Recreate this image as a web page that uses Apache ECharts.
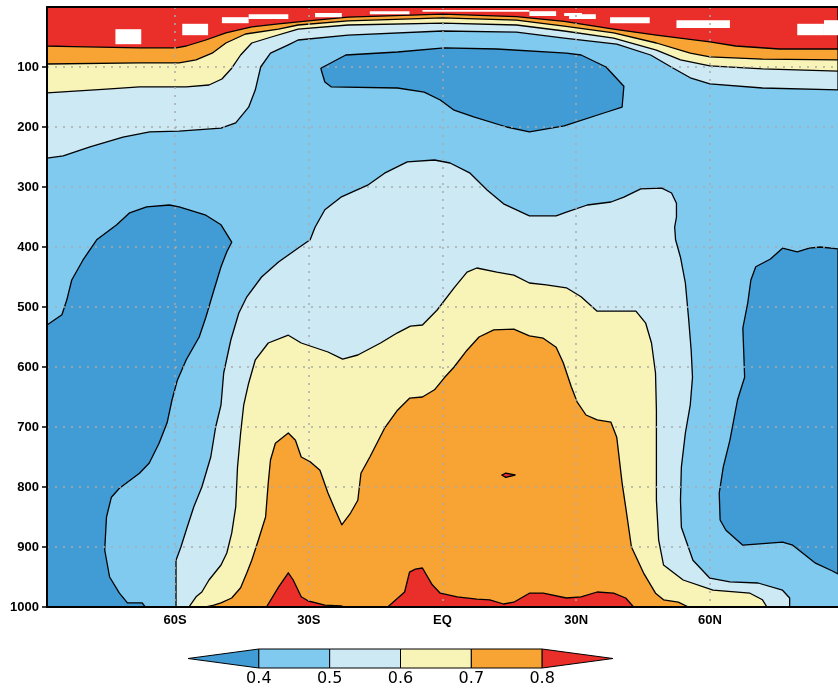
<!DOCTYPE html>
<html>
<head>
<meta charset="UTF-8">
<title>contour</title>
<script src="https://cdn.jsdelivr.net/npm/echarts@6/dist/echarts.min.js"></script>
<style>
  body { margin: 0; background: #fff; }
  #main { width: 838px; height: 690px; }
</style>
</head>
<body>
<div id="main"></div>
<script>
var latMin = -88.75, latMax = 88.75;
var latTicks = [-60, -30, 0, 30, 60];
var latNames = { '-60': '60S', '-30': '30S', '0': 'EQ', '30': '30N', '60': '60N' };
var presTicks = [100, 200, 300, 400, 500, 600, 700, 800, 900, 1000];
var levels = [0.3, 0.4, 0.5, 0.6, 0.7, 0.8, 0.9];
var levelLabels = [0.4, 0.5, 0.6, 0.7, 0.8];
var colors = ['#419bd5', '#80c9ef', '#cde9f4', '#f8f3b6', '#f8a434', '#ea2e29'];

// contour lines [lat, hPa] of the upper band, west to east
var upper05 = [[-88.75,252],[-85.1,248],[-79.1,233],[-71.7,217],[-65.7,208],[-59.1,207],[-49.7,202],[-46.4,193],[-43.5,167],[-42,138],[-40.8,100],[-38.6,77],[-34.6,63],[-32.4,55],[-21.2,47],[0,40],[16.6,42],[27.3,52],[39.1,62],[46.7,80],[51.8,102],[55.6,118],[60,128],[71.8,135],[88.75,138]];
var upper06 = [[-88.75,143],[-75.4,137],[-68,133],[-57.5,133],[-52.4,130],[-49.5,120],[-47.3,102],[-45.3,80],[-42.8,60],[-38.4,50],[-32.4,37],[-21.2,30],[0,27],[16.6,30],[27.3,40],[38.4,52],[48,72],[53.4,88],[60,98],[71.8,103],[88.75,107]];
var upper07 = [[-88.75,95],[-68,93],[-59.1,93],[-55.3,88],[-51.7,77],[-48.6,60],[-44.2,45],[-36.8,37],[-32.4,30],[-21.2,23],[0,18],[16.6,22],[27.3,32],[38.4,43],[48,60],[55.6,77],[60,83],[71.8,87],[88.75,88]];
var upper08 = [[-88.75,65],[-82.9,66],[-68,68],[-59.8,68],[-57.5,65],[-53.1,55],[-48.6,43],[-42.8,33],[-36.8,28],[-30.1,23],[-21.2,17],[0,12],[16.6,16],[27.3,24],[38.4,37],[48,47],[60,58],[65.8,65],[75.6,70],[88.75,70]];

// missing data boxes [lat0, lat1, p0, p1]
var gaps = [[-73.4,-67.6,37,62],[-58.4,-52.6,28,47],[-49.5,-43.5,17,27],[-43.5,-34.6,12,20],[-28.6,-22.6,10,17],[-16.3,-7.4,7,12],[-4.5,19.5,5,8],[19.5,25.5,7,15],[27.3,31.3,10,15],[28.4,34.4,12,20],[37.6,46.5,17,27],[52.5,64.5,22,35],[79.6,85.6,28,47],[85.6,88.75,22,47]];

// regions below 0.4
var lowUpper = [[-27.3,102],[-21.7,80],[-10.1,75],[0.4,68],[12.2,70],[27.8,77],[31.1,80],[36.7,100],[40.7,132],[40.3,167],[36.9,175],[27.3,198],[19.5,208],[14.4,200],[7,183],[2.6,172],[-0.5,155],[-4.1,142],[-10.1,135],[-25,133],[-26.4,125],[-27.1,108]];
var lowLeft = [[-88.75,530],[-85.4,513],[-84.3,488],[-83.2,455],[-80.7,422],[-77.6,388],[-73.1,363],[-70.2,343],[-66.4,333],[-61.3,330],[-59.1,333],[-53.1,347],[-49.7,363],[-47.3,392],[-48.4,408],[-49.7,433],[-51.3,472],[-53.1,517],[-54.6,550],[-57.5,588],[-59.5,622],[-60.7,655],[-61.8,693],[-63.6,727],[-65.8,760],[-68,777],[-72.5,802],[-74.3,817],[-75.4,850],[-75.8,905],[-74.7,950],[-72.5,977],[-70.7,993],[-67.4,993],[-66.7,1000],[-88.75,1000]];
var lowRight = [[70.3,433],[73.6,420],[76.3,402],[79.6,408],[82.3,402],[84.8,400],[88.75,403],[88.75,945],[87.5,940],[83.7,927],[80.8,910],[78.6,897],[76.3,892],[74.1,893],[67.4,897],[63.6,872],[62.3,855],[62.1,810],[63,767],[64.5,722],[66.2,655],[66.7,643],[67.8,617],[67.4,535],[68.5,493],[69.2,455]];

// tropospheric regions above 0.5, 0.6, 0.7, 0.8
var mid05 = [[-59.8,1000],[-59.8,922],[-58.7,900],[-57.3,867],[-55.8,833],[-54,800],[-52,750],[-50.9,700],[-49.7,663],[-49.1,610],[-47.5,555],[-45.7,510],[-43.9,483],[-40.6,450],[-36.8,425],[-33,405],[-29.7,388],[-28.6,367],[-26.4,338],[-22.8,317],[-16.8,297],[-13,277],[-7.9,258],[-1.8,255],[1.7,260],[6.2,277],[10,305],[13.7,328],[19.5,348],[25.5,348],[27.8,342],[32.5,330],[37.8,325],[40.7,317],[44.5,303],[49.2,302],[51.4,310],[52.5,327],[52.5,350],[52.1,367],[52.3,388],[53.4,417],[54.5,460],[55.2,517],[55.8,572],[56.1,617],[55.6,663],[54.5,710],[53.6,767],[53.4,822],[53.6,867],[56.2,922],[60,952],[64.5,958],[70.8,960],[76.3,972],[77.9,985],[77.9,1000]];
var mid06 = [[-56.9,1000],[-55.3,983],[-54,975],[-52.4,955],[-49.7,930],[-48.4,910],[-47.3,877],[-46.4,833],[-46,767],[-45.3,710],[-44.6,663],[-43.5,627],[-42,588],[-39.1,560],[-34.6,547],[-31.7,560],[-25.7,575],[-22.4,587],[-19,580],[-13.9,560],[-10.1,543],[-7.2,532],[-4.5,530],[-1.2,505],[2.6,468],[5.5,442],[7.7,435],[12.2,442],[16,447],[19.5,460],[23.3,463],[27.8,468],[31.1,483],[34.7,507],[43.4,507],[45.6,527],[46.9,560],[47.8,610],[48,672],[48,822],[48.5,888],[49.6,930],[54,955],[60.7,972],[69,977],[71.8,988],[72.8,1000]];
var mid07 = [[-53.1,1000],[-51.3,997],[-49.7,993],[-47.3,985],[-45.3,968],[-43.9,943],[-42.8,922],[-41.3,888],[-39.7,850],[-39.1,793],[-38.6,755],[-37.5,727],[-34.6,710],[-33,722],[-31.7,750],[-29.7,758],[-27.5,772],[-25.7,810],[-24.1,838],[-22.6,863],[-20.6,843],[-19,822],[-18.3,777],[-16.3,750],[-13,702],[-10.1,672],[-7.4,652],[-4.5,650],[-1.8,638],[0.4,618],[2.6,600],[5.5,572],[8.2,550],[11.5,538],[16,537],[19.5,548],[22.6,552],[25.5,567],[27.1,593],[28.9,633],[30.2,658],[32.2,680],[34.7,688],[37.8,692],[39.1,717],[40.3,793],[41.1,833],[42.4,900],[45.1,943],[47.8,977],[49.6,988],[52.9,992],[55.2,1000]];
var mid08a = [[-39.5,1000],[-36.8,967],[-34.6,943],[-33.5,955],[-31.7,983],[-30.1,990],[-26.4,997],[-22.8,998],[-21.9,1000]];
var mid08b = [[-12.3,1000],[-8.5,975],[-7.4,942],[-6.1,937],[-4.5,935],[-2.3,963],[-0.5,977],[3.3,983],[7.7,987],[10.6,988],[13.7,995],[16,992],[19.5,977],[22.6,977],[27.8,985],[31.1,983],[34.7,975],[38.4,977],[41.1,985],[42.9,1000]];
var mid08c = [[13.3,780],[14.2,777],[16.3,780],[14.2,784]];

var regions = [];
function addRegion(pts, fill, line) {
  regions.push({ pts: pts, fill: fill, line: line });
}
function closeTop(line) {
  return line.concat([[latMax, 0], [latMin, 0]]);
}

addRegion(closeTop(upper05), colors[2], true);
addRegion(closeTop(upper06), colors[3], true);
addRegion(closeTop(upper07), colors[4], true);
addRegion(closeTop(upper08), colors[5], true);
gaps.forEach(function (g) {
  addRegion([[g[0], g[2]], [g[1], g[2]], [g[1], g[3]], [g[0], g[3]]], '#ffffff', false);
});
addRegion(lowUpper, colors[0], true);
addRegion(lowLeft, colors[0], true);
addRegion(lowRight, colors[0], true);
addRegion(mid05, colors[2], true);
addRegion(mid06, colors[3], true);
addRegion(mid07, colors[4], true);
addRegion(mid08a, colors[5], true);
addRegion(mid08b, colors[5], true);
addRegion(mid08c, colors[5], true);

var dotted = { color: '#aaaaaa', width: 1.5, type: [2, 6] };
var tickFont = { color: '#000', fontSize: 13, fontWeight: 'bold', fontFamily: 'Liberation Sans' };

var chart = echarts.init(document.getElementById('main'));

chart.setOption({
  animation: false,
  grid: [
    { left: 47, top: 7, width: 796.8, height: 600, show: true, backgroundColor: colors[1], borderWidth: 0 },
    { left: 188, top: 649, width: 425, height: 19 }
  ],
  xAxis: [
    {
      type: 'value', gridIndex: 0, min: latMin, max: latMax, z: 11,
      axisLine: { show: true, onZero: false, lineStyle: { color: '#000', width: 2 } },
      axisTick: { show: false, customValues: latTicks },
      axisLabel: Object.assign({ customValues: latTicks, margin: 7, formatter: function (v) { return latNames[v]; } }, tickFont),
      splitLine: { show: true, lineStyle: dotted }
    },
    {
      type: 'value', gridIndex: 0, position: 'top', min: latMin, max: latMax, z: 11,
      axisLine: { show: true, onZero: false, lineStyle: { color: '#000', width: 2 } },
      axisTick: { show: false }, axisLabel: { show: false }, splitLine: { show: false }
    },
    {
      type: 'value', gridIndex: 1, min: 0.3, max: 0.9,
      axisLine: { show: false }, axisTick: { show: false }, splitLine: { show: false },
      axisLabel: {
        customValues: levelLabels, margin: 3, color: '#000', fontSize: 16, fontFamily: 'DejaVu Sans',
        formatter: function (v) { return v.toFixed(1); }
      }
    }
  ],
  yAxis: [
    {
      type: 'value', gridIndex: 0, min: 0, max: 1000, inverse: true, z: 10,
      axisLine: { show: true, onZero: false, lineStyle: { color: '#000', width: 2 } },
      axisTick: { show: true, customValues: presTicks, length: 5, lineStyle: { color: '#000', width: 1.5 } },
      axisLabel: Object.assign({ customValues: presTicks, margin: 8, formatter: function (v) { return String(v); } }, tickFont),
      splitLine: { show: true, showMaxLine: false, lineStyle: dotted }
    },
    { type: 'value', gridIndex: 1, min: 0, max: 1, show: false }
  ],
  series: [
    {
      type: 'custom', xAxisIndex: 0, yAxisIndex: 0, clip: true,
      data: regions.map(function (r, i) { return [i]; }),
      renderItem: function (params, api) {
        var r = regions[params.dataIndex];
        return {
          type: 'polygon',
          z2: params.dataIndex,
          shape: { points: r.pts.map(function (p) { return api.coord(p); }) },
          style: { fill: r.fill, stroke: r.line ? '#000' : null, lineWidth: 1.3, lineJoin: 'round' }
        };
      }
    },
    {
      type: 'custom', xAxisIndex: 2, yAxisIndex: 1, clip: false,
      data: colors.map(function (c, i) { return [levels[i], levels[i + 1]]; }),
      renderItem: function (params, api) {
        var i = params.dataIndex, lo = api.value(0), hi = api.value(1), pts;
        if (i === 0) pts = [[lo, 0.5], [hi, 1], [hi, 0]];
        else if (i === colors.length - 1) pts = [[lo, 0], [lo, 1], [hi, 0.5]];
        else pts = [[lo, 0], [hi, 0], [hi, 1], [lo, 1]];
        return {
          type: 'polygon',
          shape: { points: pts.map(function (p) { return api.coord(p); }) },
          style: { fill: colors[i], stroke: '#000', lineWidth: 1 }
        };
      }
    }
  ]
});
</script>
</body>
</html>
